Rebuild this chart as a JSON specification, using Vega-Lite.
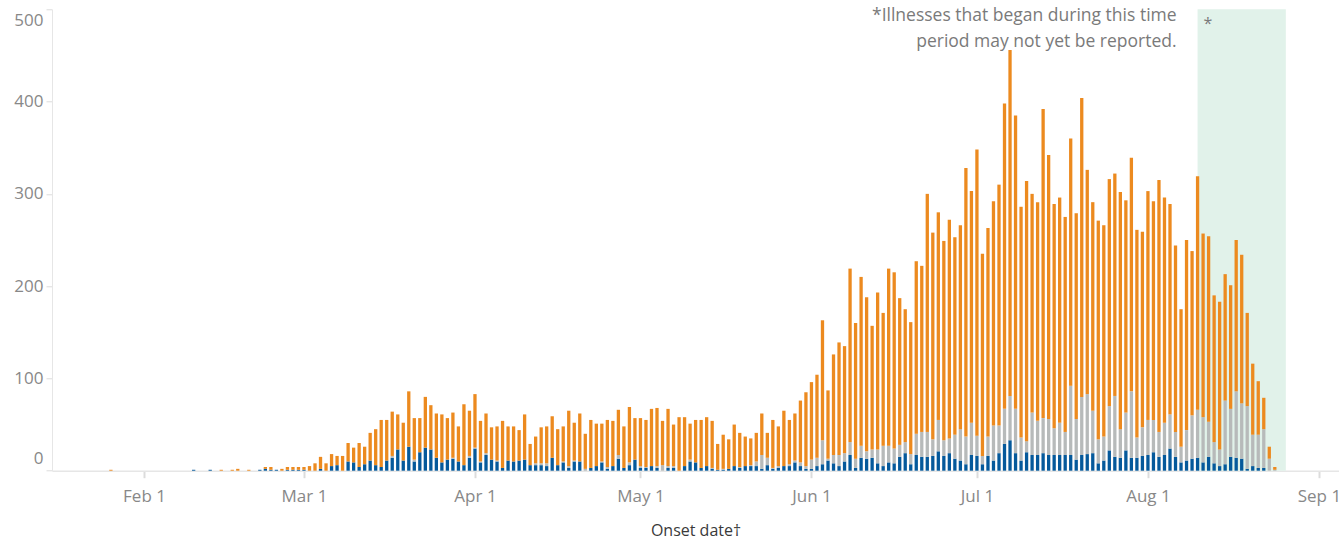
{
  "$schema": "https://vega.github.io/schema/vega-lite/v6.json",
  "width": 1287,
  "height": 461.4,
  "autosize": {"type": "none"},
  "padding": {"left": 52, "top": 9.3, "right": 0, "bottom": 69.3},
  "background": "white",
  "config": {
    "view": {"stroke": null},
    "font": "Open Sans",
    "axis": {"grid": false, "domainColor": "#e6e6e6", "tickColor": "#dcdcdc", "labelColor": "#888888", "labelFontSize": 17, "labelFont": "Open Sans"}
  },
  "datasets": {
    "cases": [
      {"date": "2020-01-26", "hospitalized": 0, "info_missing": 0, "not_hospitalized": 1},
      {"date": "2020-02-10", "hospitalized": 1, "info_missing": 0, "not_hospitalized": 0},
      {"date": "2020-02-13", "hospitalized": 1, "info_missing": 0, "not_hospitalized": 0},
      {"date": "2020-02-15", "hospitalized": 0, "info_missing": 0, "not_hospitalized": 1},
      {"date": "2020-02-17", "hospitalized": 0, "info_missing": 0, "not_hospitalized": 1},
      {"date": "2020-02-18", "hospitalized": 0, "info_missing": 0, "not_hospitalized": 2},
      {"date": "2020-02-20", "hospitalized": 0, "info_missing": 0, "not_hospitalized": 1},
      {"date": "2020-02-22", "hospitalized": 1, "info_missing": 0, "not_hospitalized": 0},
      {"date": "2020-02-23", "hospitalized": 2, "info_missing": 0, "not_hospitalized": 2},
      {"date": "2020-02-24", "hospitalized": 1, "info_missing": 0, "not_hospitalized": 3},
      {"date": "2020-02-25", "hospitalized": 1, "info_missing": 0, "not_hospitalized": 0},
      {"date": "2020-02-26", "hospitalized": 0, "info_missing": 0, "not_hospitalized": 2},
      {"date": "2020-02-27", "hospitalized": 1, "info_missing": 0, "not_hospitalized": 3},
      {"date": "2020-02-28", "hospitalized": 1, "info_missing": 0, "not_hospitalized": 3},
      {"date": "2020-02-29", "hospitalized": 1, "info_missing": 0, "not_hospitalized": 3},
      {"date": "2020-03-01", "hospitalized": 1, "info_missing": 0, "not_hospitalized": 3},
      {"date": "2020-03-02", "hospitalized": 0, "info_missing": 0, "not_hospitalized": 5},
      {"date": "2020-03-03", "hospitalized": 0, "info_missing": 0, "not_hospitalized": 8},
      {"date": "2020-03-04", "hospitalized": 2, "info_missing": 0, "not_hospitalized": 13},
      {"date": "2020-03-05", "hospitalized": 0, "info_missing": 0, "not_hospitalized": 8},
      {"date": "2020-03-06", "hospitalized": 5, "info_missing": 0, "not_hospitalized": 13},
      {"date": "2020-03-07", "hospitalized": 6, "info_missing": 0, "not_hospitalized": 10},
      {"date": "2020-03-08", "hospitalized": 0, "info_missing": 0, "not_hospitalized": 16},
      {"date": "2020-03-09", "hospitalized": 10, "info_missing": 0, "not_hospitalized": 20},
      {"date": "2020-03-10", "hospitalized": 9, "info_missing": 0, "not_hospitalized": 16},
      {"date": "2020-03-11", "hospitalized": 4, "info_missing": 0, "not_hospitalized": 26},
      {"date": "2020-03-12", "hospitalized": 7, "info_missing": 0, "not_hospitalized": 19},
      {"date": "2020-03-13", "hospitalized": 11, "info_missing": 0, "not_hospitalized": 30},
      {"date": "2020-03-14", "hospitalized": 6, "info_missing": 0, "not_hospitalized": 39},
      {"date": "2020-03-15", "hospitalized": 4, "info_missing": 0, "not_hospitalized": 51},
      {"date": "2020-03-16", "hospitalized": 11, "info_missing": 0, "not_hospitalized": 44},
      {"date": "2020-03-17", "hospitalized": 14, "info_missing": 2, "not_hospitalized": 48},
      {"date": "2020-03-18", "hospitalized": 23, "info_missing": 0, "not_hospitalized": 38},
      {"date": "2020-03-19", "hospitalized": 11, "info_missing": 0, "not_hospitalized": 41},
      {"date": "2020-03-20", "hospitalized": 26, "info_missing": 0, "not_hospitalized": 60},
      {"date": "2020-03-21", "hospitalized": 10, "info_missing": 2, "not_hospitalized": 45},
      {"date": "2020-03-22", "hospitalized": 20, "info_missing": 0, "not_hospitalized": 37},
      {"date": "2020-03-23", "hospitalized": 25, "info_missing": 0, "not_hospitalized": 55},
      {"date": "2020-03-24", "hospitalized": 23, "info_missing": 0, "not_hospitalized": 48},
      {"date": "2020-03-25", "hospitalized": 14, "info_missing": 0, "not_hospitalized": 48},
      {"date": "2020-03-26", "hospitalized": 9, "info_missing": 0, "not_hospitalized": 52},
      {"date": "2020-03-27", "hospitalized": 12, "info_missing": 0, "not_hospitalized": 45},
      {"date": "2020-03-28", "hospitalized": 13, "info_missing": 1, "not_hospitalized": 49},
      {"date": "2020-03-29", "hospitalized": 10, "info_missing": 0, "not_hospitalized": 38},
      {"date": "2020-03-30", "hospitalized": 6, "info_missing": 0, "not_hospitalized": 66},
      {"date": "2020-03-31", "hospitalized": 14, "info_missing": 2, "not_hospitalized": 49},
      {"date": "2020-04-01", "hospitalized": 24, "info_missing": 1, "not_hospitalized": 58},
      {"date": "2020-04-02", "hospitalized": 9, "info_missing": 1, "not_hospitalized": 44},
      {"date": "2020-04-03", "hospitalized": 17, "info_missing": 2, "not_hospitalized": 43},
      {"date": "2020-04-04", "hospitalized": 12, "info_missing": 0, "not_hospitalized": 35},
      {"date": "2020-04-05", "hospitalized": 10, "info_missing": 1, "not_hospitalized": 37},
      {"date": "2020-04-06", "hospitalized": 3, "info_missing": 0, "not_hospitalized": 51},
      {"date": "2020-04-07", "hospitalized": 11, "info_missing": 0, "not_hospitalized": 37},
      {"date": "2020-04-08", "hospitalized": 10, "info_missing": 0, "not_hospitalized": 38},
      {"date": "2020-04-09", "hospitalized": 11, "info_missing": 0, "not_hospitalized": 33},
      {"date": "2020-04-10", "hospitalized": 12, "info_missing": 0, "not_hospitalized": 49},
      {"date": "2020-04-11", "hospitalized": 6, "info_missing": 0, "not_hospitalized": 23},
      {"date": "2020-04-12", "hospitalized": 6, "info_missing": 2, "not_hospitalized": 29},
      {"date": "2020-04-13", "hospitalized": 6, "info_missing": 2, "not_hospitalized": 39},
      {"date": "2020-04-14", "hospitalized": 5, "info_missing": 3, "not_hospitalized": 40},
      {"date": "2020-04-15", "hospitalized": 14, "info_missing": 0, "not_hospitalized": 45},
      {"date": "2020-04-16", "hospitalized": 6, "info_missing": 0, "not_hospitalized": 39},
      {"date": "2020-04-17", "hospitalized": 9, "info_missing": 1, "not_hospitalized": 38},
      {"date": "2020-04-18", "hospitalized": 3, "info_missing": 2, "not_hospitalized": 60},
      {"date": "2020-04-19", "hospitalized": 10, "info_missing": 1, "not_hospitalized": 41},
      {"date": "2020-04-20", "hospitalized": 10, "info_missing": 0, "not_hospitalized": 52},
      {"date": "2020-04-21", "hospitalized": 0, "info_missing": 2, "not_hospitalized": 38},
      {"date": "2020-04-22", "hospitalized": 3, "info_missing": 0, "not_hospitalized": 52},
      {"date": "2020-04-23", "hospitalized": 5, "info_missing": 0, "not_hospitalized": 46},
      {"date": "2020-04-24", "hospitalized": 9, "info_missing": 1, "not_hospitalized": 41},
      {"date": "2020-04-25", "hospitalized": 2, "info_missing": 2, "not_hospitalized": 51},
      {"date": "2020-04-26", "hospitalized": 5, "info_missing": 0, "not_hospitalized": 49},
      {"date": "2020-04-27", "hospitalized": 13, "info_missing": 4, "not_hospitalized": 49},
      {"date": "2020-04-28", "hospitalized": 3, "info_missing": 0, "not_hospitalized": 45},
      {"date": "2020-04-29", "hospitalized": 6, "info_missing": 3, "not_hospitalized": 60},
      {"date": "2020-04-30", "hospitalized": 12, "info_missing": 0, "not_hospitalized": 45},
      {"date": "2020-05-01", "hospitalized": 3, "info_missing": 2, "not_hospitalized": 52},
      {"date": "2020-05-02", "hospitalized": 3, "info_missing": 1, "not_hospitalized": 51},
      {"date": "2020-05-03", "hospitalized": 5, "info_missing": 0, "not_hospitalized": 62},
      {"date": "2020-05-04", "hospitalized": 3, "info_missing": 2, "not_hospitalized": 63},
      {"date": "2020-05-05", "hospitalized": 0, "info_missing": 6, "not_hospitalized": 48},
      {"date": "2020-05-06", "hospitalized": 3, "info_missing": 2, "not_hospitalized": 62},
      {"date": "2020-05-07", "hospitalized": 3, "info_missing": 2, "not_hospitalized": 45},
      {"date": "2020-05-08", "hospitalized": 0, "info_missing": 0, "not_hospitalized": 58},
      {"date": "2020-05-09", "hospitalized": 5, "info_missing": 0, "not_hospitalized": 53},
      {"date": "2020-05-10", "hospitalized": 10, "info_missing": 2, "not_hospitalized": 39},
      {"date": "2020-05-11", "hospitalized": 9, "info_missing": 0, "not_hospitalized": 46},
      {"date": "2020-05-12", "hospitalized": 3, "info_missing": 0, "not_hospitalized": 52},
      {"date": "2020-05-13", "hospitalized": 5, "info_missing": 0, "not_hospitalized": 53},
      {"date": "2020-05-14", "hospitalized": 2, "info_missing": 1, "not_hospitalized": 51},
      {"date": "2020-05-15", "hospitalized": 1, "info_missing": 0, "not_hospitalized": 28},
      {"date": "2020-05-16", "hospitalized": 1, "info_missing": 1, "not_hospitalized": 37},
      {"date": "2020-05-17", "hospitalized": 2, "info_missing": 0, "not_hospitalized": 32},
      {"date": "2020-05-18", "hospitalized": 5, "info_missing": 0, "not_hospitalized": 45},
      {"date": "2020-05-19", "hospitalized": 3, "info_missing": 1, "not_hospitalized": 37},
      {"date": "2020-05-20", "hospitalized": 5, "info_missing": 0, "not_hospitalized": 32},
      {"date": "2020-05-21", "hospitalized": 5, "info_missing": 1, "not_hospitalized": 29},
      {"date": "2020-05-22", "hospitalized": 5, "info_missing": 5, "not_hospitalized": 31},
      {"date": "2020-05-23", "hospitalized": 2, "info_missing": 15, "not_hospitalized": 45},
      {"date": "2020-05-24", "hospitalized": 6, "info_missing": 8, "not_hospitalized": 27},
      {"date": "2020-05-25", "hospitalized": 2, "info_missing": 1, "not_hospitalized": 52},
      {"date": "2020-05-26", "hospitalized": 3, "info_missing": 2, "not_hospitalized": 43},
      {"date": "2020-05-27", "hospitalized": 5, "info_missing": 0, "not_hospitalized": 60},
      {"date": "2020-05-28", "hospitalized": 5, "info_missing": 2, "not_hospitalized": 48},
      {"date": "2020-05-29", "hospitalized": 9, "info_missing": 2, "not_hospitalized": 51},
      {"date": "2020-05-30", "hospitalized": 5, "info_missing": 4, "not_hospitalized": 67},
      {"date": "2020-05-31", "hospitalized": 2, "info_missing": 3, "not_hospitalized": 80},
      {"date": "2020-06-01", "hospitalized": 2, "info_missing": 10, "not_hospitalized": 84},
      {"date": "2020-06-02", "hospitalized": 5, "info_missing": 9, "not_hospitalized": 90},
      {"date": "2020-06-03", "hospitalized": 7, "info_missing": 26, "not_hospitalized": 130},
      {"date": "2020-06-04", "hospitalized": 11, "info_missing": 2, "not_hospitalized": 74},
      {"date": "2020-06-05", "hospitalized": 8, "info_missing": 9, "not_hospitalized": 109},
      {"date": "2020-06-06", "hospitalized": 5, "info_missing": 12, "not_hospitalized": 122},
      {"date": "2020-06-07", "hospitalized": 10, "info_missing": 9, "not_hospitalized": 116},
      {"date": "2020-06-08", "hospitalized": 17, "info_missing": 14, "not_hospitalized": 188},
      {"date": "2020-06-09", "hospitalized": 3, "info_missing": 10, "not_hospitalized": 147},
      {"date": "2020-06-10", "hospitalized": 14, "info_missing": 13, "not_hospitalized": 183},
      {"date": "2020-06-11", "hospitalized": 13, "info_missing": 8, "not_hospitalized": 167},
      {"date": "2020-06-12", "hospitalized": 14, "info_missing": 9, "not_hospitalized": 134},
      {"date": "2020-06-13", "hospitalized": 8, "info_missing": 15, "not_hospitalized": 170},
      {"date": "2020-06-14", "hospitalized": 5, "info_missing": 22, "not_hospitalized": 144},
      {"date": "2020-06-15", "hospitalized": 9, "info_missing": 18, "not_hospitalized": 192},
      {"date": "2020-06-16", "hospitalized": 8, "info_missing": 16, "not_hospitalized": 191},
      {"date": "2020-06-17", "hospitalized": 15, "info_missing": 13, "not_hospitalized": 159},
      {"date": "2020-06-18", "hospitalized": 19, "info_missing": 12, "not_hospitalized": 144},
      {"date": "2020-06-19", "hospitalized": 7, "info_missing": 11, "not_hospitalized": 143},
      {"date": "2020-06-20", "hospitalized": 17, "info_missing": 23, "not_hospitalized": 187},
      {"date": "2020-06-21", "hospitalized": 15, "info_missing": 27, "not_hospitalized": 180},
      {"date": "2020-06-22", "hospitalized": 15, "info_missing": 27, "not_hospitalized": 258},
      {"date": "2020-06-23", "hospitalized": 16, "info_missing": 18, "not_hospitalized": 224},
      {"date": "2020-06-24", "hospitalized": 21, "info_missing": 34, "not_hospitalized": 225},
      {"date": "2020-06-25", "hospitalized": 16, "info_missing": 17, "not_hospitalized": 216},
      {"date": "2020-06-26", "hospitalized": 19, "info_missing": 16, "not_hospitalized": 237},
      {"date": "2020-06-27", "hospitalized": 13, "info_missing": 26, "not_hospitalized": 214},
      {"date": "2020-06-28", "hospitalized": 11, "info_missing": 34, "not_hospitalized": 221},
      {"date": "2020-06-29", "hospitalized": 7, "info_missing": 30, "not_hospitalized": 291},
      {"date": "2020-06-30", "hospitalized": 17, "info_missing": 35, "not_hospitalized": 251},
      {"date": "2020-07-01", "hospitalized": 16, "info_missing": 22, "not_hospitalized": 310},
      {"date": "2020-07-02", "hospitalized": 7, "info_missing": 9, "not_hospitalized": 219},
      {"date": "2020-07-03", "hospitalized": 16, "info_missing": 21, "not_hospitalized": 226},
      {"date": "2020-07-04", "hospitalized": 11, "info_missing": 38, "not_hospitalized": 243},
      {"date": "2020-07-05", "hospitalized": 19, "info_missing": 30, "not_hospitalized": 261},
      {"date": "2020-07-06", "hospitalized": 29, "info_missing": 38, "not_hospitalized": 331},
      {"date": "2020-07-07", "hospitalized": 33, "info_missing": 48, "not_hospitalized": 375},
      {"date": "2020-07-08", "hospitalized": 19, "info_missing": 48, "not_hospitalized": 318},
      {"date": "2020-07-09", "hospitalized": 11, "info_missing": 25, "not_hospitalized": 250},
      {"date": "2020-07-10", "hospitalized": 20, "info_missing": 12, "not_hospitalized": 282},
      {"date": "2020-07-11", "hospitalized": 17, "info_missing": 46, "not_hospitalized": 237},
      {"date": "2020-07-12", "hospitalized": 17, "info_missing": 37, "not_hospitalized": 237},
      {"date": "2020-07-13", "hospitalized": 19, "info_missing": 38, "not_hospitalized": 335},
      {"date": "2020-07-14", "hospitalized": 17, "info_missing": 39, "not_hospitalized": 286},
      {"date": "2020-07-15", "hospitalized": 17, "info_missing": 29, "not_hospitalized": 243},
      {"date": "2020-07-16", "hospitalized": 17, "info_missing": 35, "not_hospitalized": 244},
      {"date": "2020-07-17", "hospitalized": 17, "info_missing": 25, "not_hospitalized": 233},
      {"date": "2020-07-18", "hospitalized": 17, "info_missing": 75, "not_hospitalized": 268},
      {"date": "2020-07-19", "hospitalized": 12, "info_missing": 44, "not_hospitalized": 223},
      {"date": "2020-07-20", "hospitalized": 17, "info_missing": 63, "not_hospitalized": 324},
      {"date": "2020-07-21", "hospitalized": 18, "info_missing": 65, "not_hospitalized": 243},
      {"date": "2020-07-22", "hospitalized": 19, "info_missing": 46, "not_hospitalized": 226},
      {"date": "2020-07-23", "hospitalized": 8, "info_missing": 26, "not_hospitalized": 237},
      {"date": "2020-07-24", "hospitalized": 11, "info_missing": 26, "not_hospitalized": 229},
      {"date": "2020-07-25", "hospitalized": 22, "info_missing": 48, "not_hospitalized": 246},
      {"date": "2020-07-26", "hospitalized": 15, "info_missing": 66, "not_hospitalized": 241},
      {"date": "2020-07-27", "hospitalized": 14, "info_missing": 31, "not_hospitalized": 257},
      {"date": "2020-07-28", "hospitalized": 22, "info_missing": 41, "not_hospitalized": 230},
      {"date": "2020-07-29", "hospitalized": 14, "info_missing": 72, "not_hospitalized": 253},
      {"date": "2020-07-30", "hospitalized": 14, "info_missing": 22, "not_hospitalized": 225},
      {"date": "2020-07-31", "hospitalized": 16, "info_missing": 31, "not_hospitalized": 212},
      {"date": "2020-08-01", "hospitalized": 17, "info_missing": 38, "not_hospitalized": 248},
      {"date": "2020-08-02", "hospitalized": 20, "info_missing": 35, "not_hospitalized": 237},
      {"date": "2020-08-03", "hospitalized": 15, "info_missing": 27, "not_hospitalized": 273},
      {"date": "2020-08-04", "hospitalized": 17, "info_missing": 35, "not_hospitalized": 244},
      {"date": "2020-08-05", "hospitalized": 24, "info_missing": 37, "not_hospitalized": 228},
      {"date": "2020-08-06", "hospitalized": 15, "info_missing": 27, "not_hospitalized": 202},
      {"date": "2020-08-07", "hospitalized": 9, "info_missing": 17, "not_hospitalized": 149},
      {"date": "2020-08-08", "hospitalized": 11, "info_missing": 33, "not_hospitalized": 206},
      {"date": "2020-08-09", "hospitalized": 13, "info_missing": 47, "not_hospitalized": 178},
      {"date": "2020-08-10", "hospitalized": 14, "info_missing": 52, "not_hospitalized": 253},
      {"date": "2020-08-11", "hospitalized": 9, "info_missing": 49, "not_hospitalized": 199},
      {"date": "2020-08-12", "hospitalized": 15, "info_missing": 38, "not_hospitalized": 201},
      {"date": "2020-08-13", "hospitalized": 8, "info_missing": 23, "not_hospitalized": 159},
      {"date": "2020-08-14", "hospitalized": 5, "info_missing": 18, "not_hospitalized": 160},
      {"date": "2020-08-15", "hospitalized": 7, "info_missing": 69, "not_hospitalized": 137},
      {"date": "2020-08-16", "hospitalized": 15, "info_missing": 52, "not_hospitalized": 134},
      {"date": "2020-08-17", "hospitalized": 14, "info_missing": 72, "not_hospitalized": 164},
      {"date": "2020-08-18", "hospitalized": 13, "info_missing": 60, "not_hospitalized": 161},
      {"date": "2020-08-19", "hospitalized": 2, "info_missing": 68, "not_hospitalized": 101},
      {"date": "2020-08-20", "hospitalized": 5, "info_missing": 34, "not_hospitalized": 77},
      {"date": "2020-08-21", "hospitalized": 3, "info_missing": 36, "not_hospitalized": 58},
      {"date": "2020-08-22", "hospitalized": 3, "info_missing": 42, "not_hospitalized": 34},
      {"date": "2020-08-23", "hospitalized": 0, "info_missing": 13, "not_hospitalized": 13},
      {"date": "2020-08-24", "hospitalized": 0, "info_missing": 1, "not_hospitalized": 3}
    ],
    "window": [{"start": "2020-08-10", "end": "2020-08-26"}],
    "note": [{"date": "2020-08-10", "value": 500, "label": "*Illnesses that began during this time\nperiod may not yet be reported.", "star": "*"}]
  },
  "layer": [
    {
      "data": {"name": "window"},
      "mark": {"type": "rect", "color": "#E1F2EA"},
      "encoding": {
        "x": {"field": "start", "type": "temporal", "scale": {"type": "utc", "padding": 0, "domain": [{"year": 2020, "month": 1, "date": 15, "hours": 7, "minutes": 40, "utc": true}, {"year": 2020, "month": 9, "date": 4, "hours": 15, "minutes": 20, "utc": true}]}},
        "x2": {"field": "end"}
      }
    },
    {
      "data": {"name": "cases"},
      "transform": [{"fold": ["hospitalized", "info_missing", "not_hospitalized"], "as": ["status", "count"]}],
      "mark": {"type": "bar", "size": 3.3},
      "encoding": {
        "x": {
          "field": "date", "type": "temporal",
          "scale": {"type": "utc", "padding": 0, "domain": [{"year": 2020, "month": 1, "date": 15, "hours": 7, "minutes": 40, "utc": true}, {"year": 2020, "month": 9, "date": 4, "hours": 15, "minutes": 20, "utc": true}]},
          "axis": {
            "title": "Onset date†", "titleFontSize": 16, "titleColor": "#3a3a3a", "titleFontWeight": "normal", "titleFont": "Open Sans", "titlePadding": 18,
            "format": "%b %-d",
            "values": [
              {"year": 2020, "month": 2, "date": 1, "utc": true},
              {"year": 2020, "month": 3, "date": 1, "utc": true},
              {"year": 2020, "month": 4, "date": 1, "utc": true},
              {"year": 2020, "month": 5, "date": 1, "utc": true},
              {"year": 2020, "month": 6, "date": 1, "utc": true},
              {"year": 2020, "month": 7, "date": 1, "utc": true},
              {"year": 2020, "month": 8, "date": 1, "utc": true},
              {"year": 2020, "month": 9, "date": 1, "utc": true}
            ],
            "labelFlush": false,
            "tickSize": 7, "tickWidth": 2, "labelPadding": 11, "domainWidth": 1.5
          }
        },
        "y": {
          "field": "count", "type": "quantitative", "stack": "zero",
          "scale": {"domain": [0, 500], "nice": false},
          "axis": {"title": null, "values": [0, 100, 200, 300, 400, 500], "tickSize": 6, "labelPadding": 3, "labelFlush": true, "labelFlushOffset": -3}
        },
        "color": {
          "field": "status", "type": "nominal",
          "scale": {"domain": ["hospitalized", "info_missing", "not_hospitalized"], "range": ["#05599B", "#B7BABA", "#EC8A1F"]},
          "legend": null
        },
        "order": {"field": "status", "type": "nominal", "sort": "ascending"}
      }
    },
    {
      "data": {"name": "note"},
      "mark": {"type": "text", "align": "right", "baseline": "top", "dx": -21, "dy": -2, "fontSize": 17.5, "color": "#7a7a7a", "lineHeight": 26, "lineBreak": "\n", "font": "Open Sans"},
      "encoding": {
        "x": {"field": "date", "type": "temporal"},
        "y": {"field": "value", "type": "quantitative"},
        "text": {"field": "label", "type": "nominal"}
      }
    },
    {
      "data": {"name": "note"},
      "mark": {"type": "text", "align": "left", "baseline": "top", "dx": 6, "dy": 7, "fontSize": 16, "color": "#7a7a7a", "font": "Open Sans"},
      "encoding": {
        "x": {"field": "date", "type": "temporal"},
        "y": {"field": "value", "type": "quantitative"},
        "text": {"field": "star", "type": "nominal"}
      }
    }
  ]
}
